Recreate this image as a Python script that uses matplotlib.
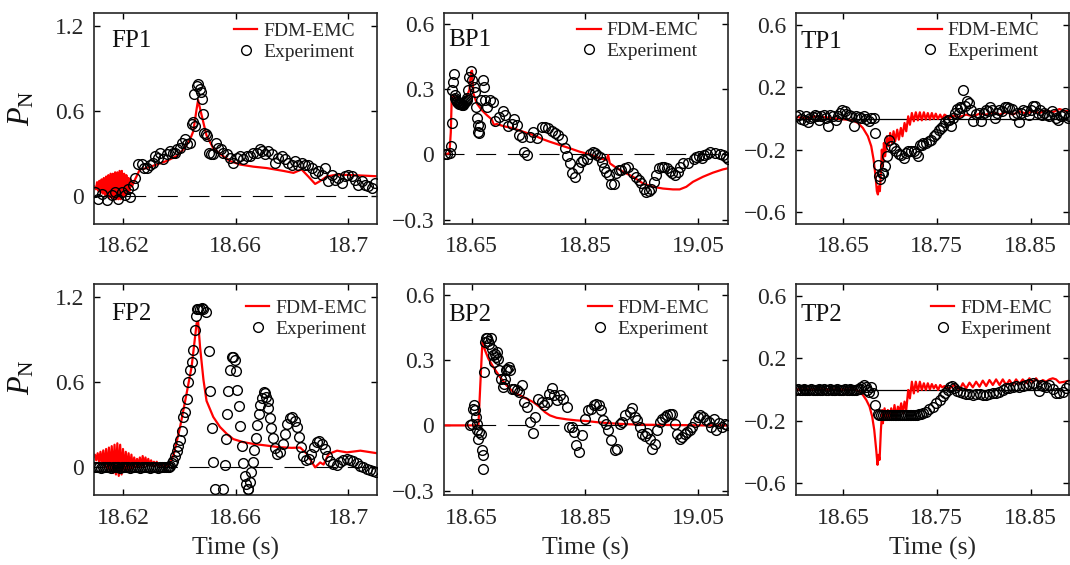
import matplotlib
matplotlib.use('Agg')
import matplotlib.pyplot as plt

plt.rcParams['font.family'] = ['Liberation Serif', 'DejaVu Serif']
plt.rcParams['mathtext.fontset'] = 'custom'
plt.rcParams['mathtext.rm'] = 'Liberation Serif'
plt.rcParams['mathtext.it'] = 'Liberation Serif:italic'

# ---------------- FP1 ----------------
fp1_sim_t = [18.6098, 18.6104, 18.6108, 18.6112, 18.6116, 18.6120, 18.6124, 18.6128, 18.6132, 18.6136,
             18.6140, 18.6144, 18.6148, 18.6152, 18.6156, 18.6160, 18.6164, 18.6168, 18.6172, 18.6176,
             18.6180, 18.6184, 18.6188, 18.6192, 18.6196, 18.6200, 18.6204, 18.6208, 18.6212, 18.6216,
             18.6220, 18.6224, 18.6228, 18.6232,
             18.6243, 18.6260, 18.6284, 18.6320, 18.6355, 18.6391, 18.6414, 18.6438, 18.6450, 18.6462,
             18.6467, 18.6474, 18.6486, 18.6497, 18.6521, 18.6545, 18.6580, 18.6616, 18.6663, 18.6711,
             18.6770, 18.6806, 18.6835, 18.6859, 18.6883, 18.6900, 18.6924, 18.6960, 18.7019, 18.7104]
fp1_sim_p = [0.07, 0.05, 0.10, 0.04, 0.11, 0.03, 0.12, 0.02, 0.13, 0.01,
             0.14, 0.00, 0.15, -0.01, 0.16, -0.01, 0.16, -0.02, 0.17, -0.02,
             0.17, -0.02, 0.18, -0.02, 0.18, -0.01, 0.16, 0.00, 0.15, 0.02,
             0.13, 0.04, 0.12, 0.07,
             0.12, 0.19, 0.20, 0.225, 0.25, 0.285, 0.33, 0.40, 0.46, 0.62,
             0.68, 0.62, 0.52, 0.43, 0.34, 0.30, 0.25, 0.225, 0.21, 0.20,
             0.18, 0.166, 0.19, 0.14, 0.088, 0.107, 0.14, 0.154, 0.15, 0.142]
fp1_exp_t = [18.6100, 18.6112, 18.6124, 18.6142, 18.6160, 18.6172, 18.6183, 18.6195, 18.6207, 18.6219,
             18.6225, 18.6234, 18.6243, 18.6255, 18.6266, 18.6275, 18.6284, 18.6296, 18.6308, 18.6314,
             18.6326, 18.6332, 18.6343, 18.6355, 18.6367, 18.6377, 18.6385, 18.6391, 18.6403, 18.6409,
             18.6420, 18.6426, 18.6438, 18.6444, 18.6450, 18.6456, 18.6454, 18.6462, 18.6468, 18.6474,
             18.6477, 18.6482, 18.6486, 18.6488, 18.6494, 18.6500, 18.6507, 18.6512, 18.6519, 18.6531,
             18.6539, 18.6547, 18.6557, 18.6569, 18.6580, 18.6592, 18.6604, 18.6616, 18.6628, 18.6640,
             18.6651, 18.6663, 18.6675, 18.6687, 18.6693, 18.6705, 18.6717, 18.6729, 18.6740, 18.6752,
             18.6764, 18.6776, 18.6788, 18.6800, 18.6811, 18.6823, 18.6835, 18.6847, 18.6859, 18.6871,
             18.6883, 18.6894, 18.6906, 18.6918, 18.6930, 18.6942, 18.6954, 18.6966, 18.6977, 18.6989,
             18.7001, 18.7013, 18.7025, 18.7037, 18.7048, 18.7060, 18.7072, 18.7084, 18.7096]
fp1_exp_p = [0.028, -0.019, 0.019, -0.024, 0.012, 0.028, -0.019, 0.028, 0.012, 0.052,
             -0.005, 0.083, 0.130, 0.232, 0.232, 0.202, 0.202, 0.225, 0.237, 0.285,
             0.273, 0.308, 0.266, 0.297, 0.320, 0.308, 0.308, 0.332, 0.344, 0.380,
             0.403, 0.368, 0.380, 0.510, 0.522, 0.498, 0.723, 0.783, 0.795, 0.759,
             0.735, 0.688, 0.581, 0.446, 0.439, 0.427, 0.308, 0.297, 0.297, 0.380,
             0.344, 0.332, 0.308, 0.297, 0.273, 0.237, 0.273, 0.285, 0.261, 0.285,
             0.285, 0.304, 0.308, 0.337, 0.320, 0.297, 0.320, 0.297, 0.237, 0.273,
             0.285, 0.261, 0.237, 0.225, 0.249, 0.225, 0.237, 0.225, 0.225, 0.202,
             0.166, 0.178, 0.154, 0.202, 0.107, 0.154, 0.119, 0.130, 0.095, 0.142,
             0.154, 0.142, 0.119, 0.083, 0.107, 0.083, 0.071, 0.059, 0.095]

# ---------------- FP2 ----------------
fp2_sim_t = [18.6097,
             18.6100, 18.6105, 18.6110, 18.6115, 18.6120, 18.6125, 18.6130, 18.6135, 18.6140, 18.6145,
             18.6150, 18.6155, 18.6160, 18.6165, 18.6170, 18.6175, 18.6180, 18.6185, 18.6190, 18.6195,
             18.6200, 18.6205, 18.6210, 18.6215, 18.6220, 18.6225, 18.6230, 18.6235, 18.6240, 18.6245,
             18.6250, 18.6255, 18.6260, 18.6265, 18.6270, 18.6275, 18.6280, 18.6285, 18.6290, 18.6295,
             18.6300, 18.6305, 18.6310, 18.6315, 18.6320, 18.6325, 18.6330, 18.6335, 18.6340, 18.6345,
             18.6350, 18.6355, 18.6360,
             18.6364, 18.6381, 18.6403, 18.6426, 18.6444, 18.6462, 18.6467, 18.6474, 18.6486, 18.6497,
             18.6521, 18.6545, 18.6569, 18.6592, 18.6628, 18.6663, 18.6711, 18.6758, 18.6800, 18.6830,
             18.6854, 18.6883, 18.6901, 18.6913, 18.6931, 18.6961, 18.6996, 18.7044, 18.7103]
fp2_sim_p = [0.08,
             0.09, 0.05, 0.10, 0.04, 0.11, 0.02, 0.12, 0.00, 0.13, -0.02,
             0.14, -0.03, 0.15, -0.04, 0.16, -0.05, 0.17, -0.06, 0.16, -0.05,
             0.13, -0.03, 0.11, -0.02, 0.10, -0.02, 0.09, -0.01, 0.07, 0.00,
             0.06, 0.01, 0.07, 0.00, 0.08, 0.01, 0.07, 0.01, 0.06, 0.01,
             0.05, 0.01, 0.04, 0.01, 0.04, 0.01, 0.03, 0.01, 0.03, 0.01,
             0.02, 0.01, 0.02,
             0.01, 0.097, 0.285, 0.52, 0.71, 1.02, 1.03, 0.85, 0.62, 0.47,
             0.356, 0.285, 0.237, 0.20, 0.178, 0.166, 0.154, 0.142, 0.138, 0.14,
             0.095, 0.0, 0.035, 0.02, 0.095, 0.118, 0.106, 0.118, 0.10]
fp2_exp_t = [18.6100, 18.6107, 18.6114, 18.6121, 18.6128, 18.6135, 18.6142, 18.6149, 18.6156, 18.6163,
             18.6170, 18.6177, 18.6184, 18.6191, 18.6198, 18.6205, 18.6212, 18.6219, 18.6226, 18.6233,
             18.6240, 18.6247, 18.6254, 18.6261, 18.6268, 18.6275, 18.6282, 18.6289, 18.6296, 18.6303,
             18.6310, 18.6317, 18.6324, 18.6331, 18.6338, 18.6345, 18.6352, 18.6359,
             18.6364, 18.6367, 18.6373, 18.6379, 18.6385, 18.6391, 18.6397, 18.6403, 18.6409, 18.6414,
             18.6420, 18.6426, 18.6432, 18.6438, 18.6444, 18.6450, 18.6456, 18.6460, 18.6462, 18.6468,
             18.6474, 18.6480, 18.6486, 18.6495, 18.6507, 18.6510, 18.6516, 18.6521, 18.6528, 18.6557,
             18.6561, 18.6566, 18.6571, 18.6575, 18.6580, 18.6587, 18.6592, 18.6597, 18.6600, 18.6607,
             18.6612, 18.6617, 18.6622, 18.6628, 18.6634, 18.6638, 18.6643, 18.6646, 18.6652, 18.6655,
             18.6662, 18.6666, 18.6673, 18.6678, 18.6684, 18.6688, 18.6694, 18.6700, 18.6705, 18.6710,
             18.6714, 18.6717, 18.6721, 18.6726, 18.6733, 18.6741, 18.6749, 18.6758, 18.6768, 18.6776,
             18.6784, 18.6794, 18.6802, 18.6810, 18.6817, 18.6825, 18.6833, 18.6841, 18.6851, 18.6860,
             18.6870, 18.6879, 18.6888, 18.6898, 18.6907, 18.6917, 18.6926, 18.6936, 18.6948, 18.6960,
             18.6971, 18.6983, 18.6995, 18.7007, 18.7019, 18.7031, 18.7043, 18.7054, 18.7066, 18.7078,
             18.7090, 18.7099]
fp2_exp_p = [0.0, 0.005, 0.0, -0.005, 0.0, 0.005, 0.0, 0.0, -0.005, 0.005,
             0.0, 0.0, 0.005, -0.005, 0.0, 0.0, 0.005, 0.0, -0.005, 0.0,
             0.005, 0.0, 0.0, -0.005, 0.0, 0.005, 0.0, 0.0, -0.005, 0.0,
             0.005, 0.0, -0.005, 0.0, 0.0, 0.005, 0.0, 0.005,
             0.005, 0.012, 0.03, 0.047, 0.08, 0.119, 0.15, 0.19, 0.26, 0.356,
             0.39, 0.486, 0.605, 0.688, 0.747, 0.83, 0.97, 1.07, 1.115, 1.12,
             1.12, 1.125, 1.12, 1.10, 0.82, 0.54, 0.28, 0.04, -0.15, -0.15,
             0.02, 0.20, 0.38, 0.54, 0.69, 0.78, 0.78, 0.76, 0.68, 0.55,
             0.43, 0.29, 0.15, 0.03, -0.06, -0.12, -0.154, -0.15, -0.10, -0.035,
             0.035, 0.12, 0.21, 0.30, 0.38, 0.44, 0.49, 0.53, 0.527, 0.50,
             0.47, 0.42, 0.35, 0.28, 0.21, 0.14, 0.095, 0.107, 0.166, 0.237,
             0.308, 0.35, 0.356, 0.33, 0.285, 0.213, 0.142, 0.083, 0.052, 0.059,
             0.095, 0.142, 0.178, 0.185, 0.166, 0.130, 0.083, 0.047, 0.024, 0.019,
             0.036, 0.052, 0.059, 0.052, 0.043, 0.028, 0.012, 0.0, -0.01, -0.019,
             -0.024, -0.03]

# ---------------- BP1 ----------------
bp1_sim_t = [18.6012, 18.6106, 18.6130, 18.6147, 18.6165, 18.6235, 18.6324, 18.6412, 18.6459, 18.6488,
             18.6506, 18.6529, 18.6588, 18.6676, 18.6765, 18.6853, 18.6894, 18.6941, 18.7059, 18.7235,
             18.7411, 18.7588, 18.7764, 18.7882, 18.8058, 18.8235, 18.8411, 18.8588, 18.8764, 18.8882,
             18.8911, 18.8941, 18.9029, 18.9176, 18.9352, 18.9529, 18.9705, 18.9881, 19.0057, 19.0175,
             19.0293, 19.0411, 19.0587, 19.0764, 19.0940, 19.1028]
bp1_sim_p = [0.0, 0.005, 0.10, 0.265, 0.273, 0.25, 0.253, 0.266, 0.296, 0.38,
             0.385, 0.281, 0.235, 0.204, 0.181, 0.161, 0.135, 0.14, 0.13, 0.12,
             0.104, 0.089, 0.069, 0.058, 0.043, 0.028, 0.012, 0.0, -0.018, -0.026,
             -0.003, -0.041, -0.057, -0.08, -0.103, -0.134, -0.149, -0.157, -0.161, -0.161,
             -0.149, -0.126, -0.103, -0.084, -0.069, -0.064]
bp1_exp_t = [18.6030, 18.6071, 18.6118, 18.6135, 18.6153, 18.6159, 18.6177, 18.6188, 18.6206, 18.6212,
             18.6224, 18.6235, 18.6247, 18.6259, 18.6271, 18.6282, 18.6294, 18.6306, 18.6324, 18.6338,
             18.6353, 18.6365, 18.6382, 18.6395, 18.6412, 18.6425, 18.6441, 18.6459, 18.6482, 18.6500,
             18.6541, 18.6559, 18.6576, 18.6588, 18.6606, 18.6618, 18.6629, 18.6647, 18.6665, 18.6706,
             18.6718, 18.6735, 18.6765, 18.6823, 18.6882, 18.6912, 18.6988, 18.7047, 18.7088, 18.7147,
             18.7206, 18.7247, 18.7294, 18.7341, 18.7382, 18.7423, 18.7470, 18.7529, 18.7588, 18.7647,
             18.7735, 18.7794, 18.7852, 18.7911, 18.7970, 18.8029, 18.8088, 18.8147, 18.8188, 18.8235,
             18.8276, 18.8323, 18.8382, 18.8423, 18.8470, 18.8529, 18.8588, 18.8635, 18.8676, 18.8723,
             18.8764, 18.8805, 18.8841, 18.8882, 18.8929, 18.8970, 18.9011, 18.9058, 18.9105, 18.9146,
             18.9205, 18.9264, 18.9352, 18.9411, 18.9458, 18.9499, 18.9540, 18.9587, 18.9634, 18.9675,
             18.9716, 18.9763, 18.9810, 18.9857, 18.9904, 18.9951, 18.9999, 19.0046, 19.0093, 19.0140,
             19.0187, 19.0234, 19.0328, 19.0422, 19.0469, 19.0516, 19.0563, 19.0611, 19.0658, 19.0705,
             19.0799, 19.0892, 19.0939, 19.0986, 19.1028]
bp1_exp_p = [0.002, 0.0, 0.008, 0.04, 0.143, 0.296, 0.335, 0.37, 0.273, 0.26,
             0.25, 0.245, 0.243, 0.238, 0.235, 0.233, 0.232, 0.23, 0.227, 0.228,
             0.232, 0.235, 0.243, 0.245, 0.25, 0.26, 0.296, 0.357, 0.385, 0.342,
             0.309, 0.289, 0.216, 0.166, 0.135, 0.104, 0.097, 0.13, 0.25, 0.342,
             0.309, 0.25, 0.216, 0.25, 0.243, 0.155, 0.17, 0.201, 0.181, 0.13,
             0.14, 0.161, 0.135, 0.089, 0.081, 0.012, -0.003, 0.081, 0.104, 0.074,
             0.127, 0.124, 0.12, 0.109, 0.097, 0.089, 0.069, 0.028, -0.008, -0.041,
             -0.087, -0.103, -0.064, -0.034, -0.026, -0.023, 0.002, 0.012, 0.005, -0.003,
             -0.011, -0.034, -0.064, -0.08, -0.095, -0.134, -0.137, -0.087, -0.072, -0.072,
             -0.064, -0.057, -0.087, -0.103, -0.118, -0.13, -0.157, -0.172, -0.167, -0.161,
             -0.126, -0.095, -0.064, -0.057, -0.06, -0.064, -0.075, -0.087, -0.095, -0.08,
             -0.057, -0.041, -0.038, -0.023, -0.014, -0.008, -0.018, -0.003, 0.002, 0.012,
             0.008, 0.002, -0.003, -0.014, -0.023]

# ---------------- BP2 ----------------
bp2_sim_t = [18.6012, 18.6300, 18.6600, 18.6618, 18.6647, 18.6688, 18.6735, 18.6794, 18.6882, 18.7000,
             18.7117, 18.7235, 18.7353, 18.7470, 18.7588, 18.7705, 18.7794, 18.7882, 18.8000, 18.8176,
             18.8352, 18.8529, 18.8705, 18.8882, 18.9058, 18.9293, 18.9587, 18.9999, 19.0587, 19.1028]
bp2_sim_p = [0.0, 0.0, 0.0, 0.0, 0.16, 0.383, 0.345, 0.307, 0.268, 0.222,
             0.184, 0.153, 0.138, 0.123, 0.107, 0.084, 0.061, 0.046, 0.035, 0.028,
             0.023, 0.02, 0.015, 0.011, 0.008, 0.005, 0.003, 0.002, 0.0, 0.0]
bp2_exp_t = [18.6471, 18.6500, 18.6529, 18.6547, 18.6565, 18.6576, 18.6588, 18.6600, 18.6618, 18.6635,
             18.6659, 18.6676, 18.6694, 18.6706, 18.6718, 18.6729, 18.6747, 18.6765, 18.6794, 18.6812,
             18.6835, 18.6853, 18.6870, 18.6894, 18.6912, 18.6929, 18.6953, 18.6970, 18.6988, 18.7012,
             18.7047, 18.7070, 18.7088, 18.7106, 18.7129, 18.7153, 18.7176, 18.7206, 18.7247, 18.7294,
             18.7341, 18.7382, 18.7423, 18.7470, 18.7529, 18.7588, 18.7617, 18.7676, 18.7735, 18.7776,
             18.7823, 18.7870, 18.7911, 18.7958, 18.8011, 18.8058, 18.8117, 18.8176, 18.8223, 18.8264,
             18.8305, 18.8352, 18.8399, 18.8458, 18.8499, 18.8558, 18.8617, 18.8658, 18.8705, 18.8752,
             18.8793, 18.8823, 18.8870, 18.8911, 18.8970, 18.9029, 18.9070, 18.9117, 18.9164, 18.9205,
             18.9293, 18.9340, 18.9381, 18.9423, 18.9470, 18.9516, 18.9558, 18.9599, 18.9646, 18.9693,
             18.9734, 18.9775, 18.9822, 18.9869, 18.9910, 18.9952, 18.9999, 19.0046, 19.0087, 19.0128,
             19.0175, 19.0222, 19.0263, 19.0305, 19.0351, 19.0398, 19.0445, 19.0492, 19.0539, 19.0587,
             19.0646, 19.0692, 19.0734, 19.0775, 19.0822, 19.0869, 19.0916, 19.0969, 19.1010]
bp2_exp_p = [0.0, 0.005, 0.077, 0.092, 0.069, 0.038, 0.008, -0.023, -0.061, -0.031,
             -0.038, -0.115, -0.138, -0.2, 0.245, 0.383, 0.4, 0.4, 0.39, 0.375,
             0.4, 0.352, 0.322, 0.291, 0.33, 0.314, 0.337, 0.307, 0.253, 0.215,
             0.176, 0.192, 0.215, 0.253, 0.26, 0.268, 0.253, 0.169, 0.169, 0.161,
             0.153, 0.184, 0.107, 0.084, 0.015, -0.035, 0.038, 0.123, 0.107, 0.092,
             0.107, 0.146, 0.173, 0.138, 0.115, 0.138, 0.123, 0.084, -0.008, -0.008,
             -0.031, -0.092, -0.123, -0.046, 0.031, 0.069, 0.077, 0.092, 0.1, 0.092,
             0.069, 0.023, 0.008, -0.023, -0.069, -0.115, -0.107, 0.008, 0.015, 0.046,
             0.061, 0.081, 0.038, 0.023, -0.008, -0.038, -0.051, -0.035, -0.061, -0.107,
             -0.084, -0.023, 0.015, 0.031, 0.038, 0.046, 0.051, 0.054, 0.008, -0.038,
             -0.061, -0.054, -0.041, -0.031, -0.02, -0.008, 0.015, 0.038, 0.046, 0.038,
             0.026, 0.015, -0.008, 0.031, -0.023, 0.011, -0.008, 0.005, 0.0]

# ---------------- TP1 ----------------
tp1_sim_t = [18.5996, 18.6110, 18.6216, 18.6323, 18.6429, 18.6536, 18.6607, 18.6660, 18.6713, 18.6766,
             18.6802, 18.6827, 18.6848, 18.6862, 18.6873, 18.6883, 18.6894, 18.6905, 18.6915, 18.6926,
             18.6937, 18.6951, 18.6969, 18.6986, 18.7004, 18.7022, 18.7040, 18.7057, 18.7079, 18.7096,
             18.7118, 18.7135, 18.7157, 18.7175, 18.7196, 18.7214, 18.7235, 18.7256, 18.7277, 18.7299,
             18.7320, 18.7341, 18.7363, 18.7384, 18.7405, 18.7427, 18.7448, 18.7469, 18.7490, 18.7512,
             18.7537, 18.7558, 18.7583, 18.7636, 18.7672, 18.7743, 18.7814, 18.7885, 18.7956, 18.8027,
             18.8098, 18.8169, 18.8240, 18.8311, 18.8382, 18.8453, 18.8524, 18.8595, 18.8666, 18.8737,
             18.8808, 18.8879, 18.8914]
tp1_sim_p = [0.010, 0.003, 0.014, 0.007, -0.001, -0.007, -0.014, -0.029, -0.061, -0.114,
             -0.178, -0.264, -0.371, -0.467, -0.488, -0.435, -0.467, -0.349, -0.200, -0.306,
             -0.157, -0.242, -0.114, -0.178, -0.093, -0.157, -0.082, -0.146, -0.072, -0.136,
             -0.061, -0.114, -0.029, -0.082, 0.014, -0.040, 0.035, -0.018, 0.040, -0.012,
             0.040, -0.012, 0.040, -0.007, 0.035, -0.007, 0.035, -0.003, 0.031, -0.003,
             0.025, -0.003, 0.025, 0.003, 0.018, 0.010, 0.025, 0.014, 0.031, 0.025,
             0.040, 0.025, 0.040, 0.025, 0.046, 0.031, 0.046, 0.035, 0.052, 0.040,
             0.061, 0.046, 0.052]
tp1_exp_t = [18.6003, 18.6031, 18.6056, 18.6081, 18.6102, 18.6127, 18.6152, 18.6180, 18.6198, 18.6223,
             18.6244, 18.6269, 18.6294, 18.6315, 18.6340, 18.6365, 18.6394, 18.6422, 18.6447, 18.6472,
             18.6493, 18.6518, 18.6536, 18.6564, 18.6589, 18.6614, 18.6642, 18.6670, 18.6695, 18.6720,
             18.6749, 18.6777, 18.6802, 18.6827, 18.6841, 18.6869, 18.6883, 18.6898, 18.6912, 18.6926,
             18.6947, 18.6965, 18.6990, 18.7015, 18.7040, 18.7068, 18.7093, 18.7121, 18.7146, 18.7175,
             18.7199, 18.7228, 18.7253, 18.7281, 18.7302, 18.7317, 18.7338, 18.7359, 18.7388, 18.7416,
             18.7441, 18.7469, 18.7494, 18.7522, 18.7547, 18.7572, 18.7593, 18.7618, 18.7636, 18.7654,
             18.7672, 18.7696, 18.7718, 18.7735, 18.7750, 18.7764, 18.7785, 18.7803, 18.7821, 18.7842,
             18.7867, 18.7892, 18.7920, 18.7948, 18.7977, 18.8005, 18.8027, 18.8048, 18.8069, 18.8090,
             18.8119, 18.8144, 18.8169, 18.8197, 18.8225, 18.8250, 18.8275, 18.8303, 18.8328, 18.8353,
             18.8382, 18.8403, 18.8424, 18.8453, 18.8481, 18.8506, 18.8531, 18.8552, 18.8577, 18.8602,
             18.8623, 18.8648, 18.8673, 18.8701, 18.8726, 18.8747, 18.8772, 18.8797, 18.8822, 18.8843,
             18.8871, 18.8896, 18.8914]
tp1_exp_p = [0.014, 0.025, -0.003, -0.012, 0.014, -0.025, 0.003, 0.010, 0.025, 0.014,
             -0.007, 0.018, 0.025, 0.003, -0.050, 0.025, 0.014, -0.007, 0.018, 0.035,
             0.057, 0.046, 0.031, 0.025, 0.014, -0.046, 0.014, 0.010, 0.003, 0.014,
             -0.003, -0.018, 0.003, 0.003, -0.093, -0.296, -0.371, -0.392, -0.349, -0.349,
             -0.306, -0.242, -0.136, -0.178, -0.189, -0.210, -0.225, -0.232, -0.253, -0.221,
             -0.210, -0.210, -0.210, -0.221, -0.242, -0.168, -0.168, -0.157, -0.157, -0.146,
             -0.136, -0.114, -0.097, -0.076, -0.061, -0.046, -0.025, -0.007, -0.007, -0.046,
             0.003, 0.035, 0.061, 0.035, 0.074, 0.067, 0.180, 0.082, 0.110, 0.099,
             0.057, -0.018, 0.031, 0.035, -0.018, 0.035, 0.057, 0.046, 0.074, 0.052,
             0.003, 0.035, 0.057, 0.046, 0.074, 0.074, 0.067, 0.061, 0.025, 0.035,
             -0.025, 0.035, 0.057, 0.046, 0.025, 0.057, 0.082, 0.078, 0.035, 0.057,
             0.025, 0.035, 0.025, 0.014, 0.046, 0.031, 0.003, -0.012, 0.018, 0.025,
             0.035, 0.003, 0.014]

# ---------------- TP2 ----------------
tp2_sim_t = [18.5996, 18.6110, 18.6216, 18.6323, 18.6429, 18.6536, 18.6607, 18.6642, 18.6678, 18.6713,
             18.6749, 18.6784, 18.6812, 18.6834, 18.6855, 18.6869, 18.6880, 18.6891, 18.6905, 18.6919,
             18.6926, 18.6944, 18.6962, 18.6979, 18.6997, 18.7015, 18.7033, 18.7050, 18.7068, 18.7086,
             18.7104, 18.7121, 18.7139, 18.7157, 18.7175, 18.7196, 18.7214, 18.7235, 18.7256, 18.7277,
             18.7299, 18.7320, 18.7341, 18.7363, 18.7384, 18.7405, 18.7427, 18.7448, 18.7469, 18.7490,
             18.7515, 18.7537, 18.7558, 18.7583, 18.7636, 18.7689, 18.7743, 18.7778, 18.7814, 18.7849,
             18.7885, 18.7920, 18.7956, 18.7991, 18.8027, 18.8062, 18.8098, 18.8133, 18.8169, 18.8204,
             18.8240, 18.8275, 18.8311, 18.8346, 18.8382, 18.8417, 18.8453, 18.8488, 18.8524, 18.8559,
             18.8595, 18.8630, 18.8666, 18.8701, 18.8737, 18.8772, 18.8808, 18.8861, 18.8914]
tp2_sim_p = [0.001, 0.001, 0.003, 0.001, 0.001, 0.001, 0.001, -0.003, -0.014, -0.035,
             -0.067, -0.110, -0.174, -0.260, -0.388, -0.484, -0.420, -0.452, -0.260, -0.132,
             -0.217, -0.121, -0.196, -0.132, -0.185, -0.121, -0.174, -0.100, -0.185, -0.110,
             -0.142, -0.089, -0.153, -0.078, -0.132, -0.003, -0.057, 0.050, -0.025, 0.050,
             -0.014, 0.050, -0.003, 0.040, -0.003, 0.040, 0.001, 0.035, 0.007, 0.029,
             -0.003, 0.029, 0.014, 0.022, 0.007, 0.029, -0.003, 0.040, 0.007, 0.044,
             0.014, 0.050, 0.018, 0.057, 0.022, 0.061, 0.029, 0.065, 0.029, 0.065,
             0.029, 0.061, 0.029, 0.065, 0.035, 0.065, 0.040, 0.072, 0.044, 0.072,
             0.040, 0.061, 0.050, 0.065, 0.072, 0.065, 0.044, 0.050, 0.057]
tp2_exp_t = [18.600, 18.602, 18.604, 18.606, 18.608, 18.610, 18.612, 18.614, 18.616, 18.618,
             18.620, 18.622, 18.624, 18.626, 18.628, 18.630, 18.632, 18.634, 18.636, 18.638,
             18.640, 18.642, 18.644, 18.646, 18.648, 18.650, 18.652, 18.654, 18.656, 18.658,
             18.660, 18.662, 18.664, 18.666, 18.668,
             18.6695, 18.6720, 18.6741, 18.6759, 18.6777, 18.6802, 18.6820, 18.6837, 18.6873,
             18.689, 18.691, 18.693, 18.695, 18.697, 18.699, 18.701, 18.703, 18.705, 18.707,
             18.709, 18.711, 18.713, 18.715, 18.717, 18.719, 18.721, 18.723, 18.725, 18.727,
             18.729, 18.731, 18.733,
             18.7352, 18.7388, 18.7423, 18.7459, 18.7494, 18.7530, 18.7565, 18.7593, 18.7618, 18.7643,
             18.7664, 18.7689, 18.7714, 18.7743, 18.7778, 18.7814, 18.7849, 18.7885, 18.7920, 18.7956,
             18.7991, 18.8027, 18.8062, 18.8098, 18.8133, 18.8169, 18.8204, 18.8240, 18.8275, 18.8311,
             18.8346, 18.8382, 18.8417, 18.8453, 18.8488, 18.8524, 18.8559, 18.8595, 18.8612, 18.8630,
             18.8666, 18.8701, 18.8737, 18.8772, 18.8808, 18.8843, 18.8879, 18.8914]
tp2_exp_p = [0.0, 0.003, -0.003, 0.0, 0.003, 0.0, -0.003, 0.0, 0.003, 0.0,
             0.0, -0.003, 0.003, 0.0, 0.0, 0.003, -0.003, 0.0, 0.003, 0.0,
             -0.003, 0.0, 0.003, 0.0, 0.0, -0.003, 0.003, 0.0, 0.0, 0.003,
             0.0, -0.003, 0.0, 0.003, 0.006,
             0.014, 0.029, 0.018, -0.003, -0.014, 0.018, -0.020, -0.100, -0.157,
             -0.165, -0.162, -0.166, -0.164, -0.167, -0.163, -0.165, -0.166, -0.164, -0.165,
             -0.163, -0.166, -0.165, -0.164, -0.166, -0.165, -0.163, -0.165, -0.166, -0.164,
             -0.162, -0.160, -0.158,
             -0.153, -0.142, -0.127, -0.110, -0.089, -0.067, -0.042, -0.020, -0.003, 0.014,
             0.022, 0.007, -0.007, -0.016, -0.025, -0.029, -0.031, -0.035, -0.031, -0.029,
             -0.033, -0.035, -0.031, -0.025, -0.020, -0.014, -0.003, 0.007, 0.007, 0.018,
             0.022, 0.018, 0.022, 0.029, 0.035, 0.040, 0.029, -0.007, 0.029, 0.022,
             0.018, 0.029, 0.001, -0.020, -0.025, -0.014, 0.007, 0.029]

# axis ticks / labels
fp_xticks = [18.62, 18.66, 18.70]
fp_xlabels = ['18.62', '18.66', '18.7']
fp_yticks = [0, 0.6, 1.2]
fp_ylabels = ['0', '0.6', '1.2']
bp_xticks = [18.65, 18.85, 19.05]
bp_xlabels = ['18.65', '18.85', '19.05']
bp_yticks = [-0.3, 0, 0.3, 0.6]
bp_ylabels = ['\u22120.3', '0', '0.3', '0.6']
tp_xticks = [18.65, 18.75, 18.85]
tp_xlabels = ['18.65', '18.75', '18.85']
tp_yticks = [-0.6, -0.2, 0.2, 0.6]
tp_ylabels = ['\u22120.6', '\u22120.2', '0.2', '0.6']

TXT = '#262626'

fig = plt.figure(figsize=(10.7, 5.65), dpi=100)


def panel(rect, sim_t, sim_p, exp_t, exp_p, name, xlim, ylim, xt, xl, yt, yl,
          leg_xy, name_xy, dashed=True, bottom=False):
    ax = fig.add_axes(rect)
    if dashed:
        ax.axhline(0, color='k', lw=0.8, ls=(0, (18, 10.5)), zorder=1)
    else:
        ax.axhline(0, color='k', lw=0.9, zorder=1)
    ax.plot(sim_t, sim_p, color='#ff0000', lw=1.6, label='FDM-EMC', zorder=2)
    ax.plot(exp_t, exp_p, ls='none', marker='o', ms=7, mfc='none', mec='k',
            mew=1.0, label='Experiment', zorder=3)
    ax.set_xlim(xlim)
    ax.set_ylim(ylim)
    ax.set_xticks(xt)
    ax.set_xticklabels(xl)
    ax.set_yticks(yt)
    ax.set_yticklabels(yl)
    ax.tick_params(direction='in', top=True, right=True, length=4, width=1,
                   labelsize=17, labelcolor=TXT)
    ax.tick_params(axis='x', pad=9)
    ax.tick_params(axis='y', pad=7)
    for s in ax.spines.values():
        s.set_linewidth(1.2)
        s.set_color('#262626')
    leg = ax.legend(loc='upper right', bbox_to_anchor=leg_xy, frameon=False, fontsize=14,
                    handlelength=1.2, handletextpad=0.3, labelspacing=0.15,
                    borderpad=0, borderaxespad=0, numpoints=1)
    for t in leg.get_texts():
        t.set_color(TXT)
    ax.text(name_xy[0], name_xy[1], name, transform=ax.transAxes, fontsize=18,
            ha='left', va='baseline', color='#111111')
    if bottom:
        ax.set_xlabel('Time (s)', fontsize=18.5, color=TXT)
        ax.xaxis.set_label_coords(0.5, -0.2)
    return ax


fp_xlim = (18.6097, 18.7103)
fp_ylim = (-0.195, 1.295)
bp_xlim = (18.601, 19.103)
bp_ylim = (-0.32, 0.65)
tp_xlim = (18.600, 18.891)
tp_ylim = (-0.678, 0.678)

h = 211 / 565
panel([94 / 1070, 1 - 224 / 565, 283 / 1070, h], fp1_sim_t, fp1_sim_p, fp1_exp_t, fp1_exp_p, 'FP1',
      fp_xlim, fp_ylim, fp_xticks, fp_xlabels, fp_yticks, fp_ylabels, (0.922, 0.955), (0.062, 0.840))
panel([444 / 1070, 1 - 224 / 565, 284 / 1070, h], bp1_sim_t, bp1_sim_p, bp1_exp_t, bp1_exp_p, 'BP1',
      bp_xlim, bp_ylim, bp_xticks, bp_xlabels, bp_yticks, bp_ylabels, (0.895, 0.958), (0.016, 0.844))
panel([796 / 1070, 1 - 224 / 565, 273 / 1070, h], tp1_sim_t, tp1_sim_p, tp1_exp_t, tp1_exp_p, 'TP1',
      tp_xlim, tp_ylim, tp_xticks, tp_xlabels, tp_yticks, tp_ylabels, (0.891, 0.958), (0.016, 0.836),
      dashed=False)
panel([94 / 1070, 1 - 495 / 565, 283 / 1070, h], fp2_sim_t, fp2_sim_p, fp2_exp_t, fp2_exp_p, 'FP2',
      fp_xlim, fp_ylim, fp_xticks, fp_xlabels, fp_yticks, fp_ylabels, (0.964, 0.927), (0.060, 0.829),
      bottom=True)
panel([444 / 1070, 1 - 495 / 565, 284 / 1070, h], bp2_sim_t, bp2_sim_p, bp2_exp_t, bp2_exp_p, 'BP2',
      bp_xlim, bp_ylim, bp_xticks, bp_xlabels, bp_yticks, bp_ylabels, (0.934, 0.927), (0.016, 0.826),
      bottom=True)
panel([796 / 1070, 1 - 495 / 565, 273 / 1070, h], tp2_sim_t, tp2_sim_p, tp2_exp_t, tp2_exp_p, 'TP2',
      tp_xlim, tp_ylim, tp_xticks, tp_xlabels, tp_yticks, tp_ylabels, (0.937, 0.927), (0.016, 0.826),
      dashed=False, bottom=True)

# y labels for the two rows
fig.text(22 / 1070, 1 - 108 / 565, r'$P_{\mathrm{N}}$', rotation=90, ha='center', va='center',
         fontsize=22, color='#111111')
fig.text(22 / 1070, 1 - 377 / 565, r'$P_{\mathrm{N}}$', rotation=90, ha='center', va='center',
         fontsize=22, color='#111111')

fig.savefig('out.png', dpi=100)
